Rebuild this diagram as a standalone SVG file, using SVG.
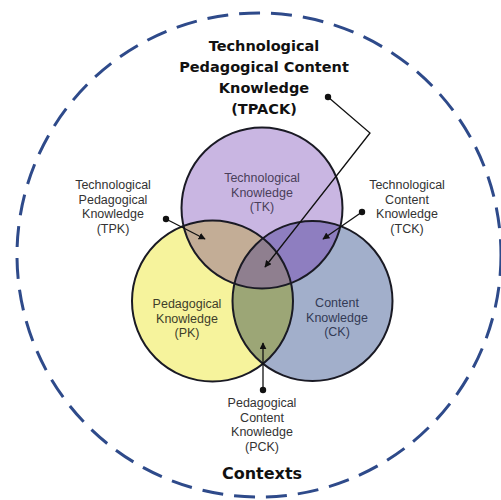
<svg xmlns="http://www.w3.org/2000/svg" width="501" height="500" viewBox="0 0 501 500">
<style>
.lbl{font-family:"Liberation Sans",Arial,sans-serif;font-size:12.5px;fill:#333;text-anchor:middle}
.bold{font-family:"DejaVu Sans",sans-serif;font-weight:bold;fill:#111;text-anchor:middle}
.ring{fill:none;stroke:#1a1a24;stroke-width:2}
.lead{fill:none;stroke:#111;stroke-width:1.3}
.dot{fill:#111}
</style>
<defs>
<circle id="cTK" cx="262" cy="208" r="80.5"/>
<circle id="cPK" cx="212.5" cy="301" r="80.5"/>
<circle id="cCK" cx="312.5" cy="301" r="80"/>
<clipPath id="clipPK"><use href="#cPK"/></clipPath>
<clipPath id="clipCK"><use href="#cCK"/></clipPath>
<clipPath id="clipTK"><use href="#cTK"/></clipPath>
<marker id="arr" viewBox="0 0 10 10" refX="9" refY="5" markerWidth="7" markerHeight="7" orient="auto" markerUnits="userSpaceOnUse"><path d="M0,0 L10,5 L0,10 z" fill="#111"/></marker>
</defs>
<rect width="501" height="500" fill="#fff"/>
<g id="contexts">
<circle cx="259" cy="255" r="242" fill="none" stroke="#2e4a8a" stroke-width="3" stroke-dasharray="21 11"/>
<text class="bold" x="262" y="479" font-size="16">Contexts</text>
</g>
<g id="tk"><use href="#cTK" fill="#c9b6e2"/></g>
<g id="pk"><use href="#cPK" fill="#f6f39c"/></g>
<g id="ck"><use href="#cCK" fill="#a2afcb"/></g>
<g id="tpk-region" clip-path="url(#clipPK)"><use href="#cTK" fill="#c3ad96"/></g>
<g id="tck-region" clip-path="url(#clipCK)"><use href="#cTK" fill="#8e7ec0"/></g>
<g id="pck-region" clip-path="url(#clipCK)"><use href="#cPK" fill="#9ca676"/></g>
<g id="tpack-region" clip-path="url(#clipCK)"><g clip-path="url(#clipPK)"><use href="#cTK" fill="#8f7f8f"/></g></g>
<g id="rings">
<use href="#cTK" class="ring"/><use href="#cPK" class="ring"/><use href="#cCK" class="ring"/>
</g>
<g id="tk-label"><text class="lbl" x="262" style="fill:#4a3f5a"><tspan x="262" y="182">Technological</tspan><tspan x="262" y="196.5">Knowledge</tspan><tspan x="262" y="211">(TK)</tspan></text></g>
<g id="pk-label"><text class="lbl" style="fill:#3e3e2a"><tspan x="187" y="308">Pedagogical</tspan><tspan x="187" y="322.5">Knowledge</tspan><tspan x="187" y="337">(PK)</tspan></text></g>
<g id="ck-label"><text class="lbl" style="fill:#333a55"><tspan x="337" y="307">Content</tspan><tspan x="337" y="321.5">Knowledge</tspan><tspan x="337" y="336">(CK)</tspan></text></g>
<g id="tpack-title"><text class="bold" font-size="14.5"><tspan x="264" y="51">Technological</tspan><tspan x="264" y="72">Pedagogical Content</tspan><tspan x="264" y="93">Knowledge</tspan><tspan x="264" y="114">(TPACK)</tspan></text></g>
<g id="tpk-label"><text class="lbl"><tspan x="113" y="189">Technological</tspan><tspan x="113" y="203.5">Pedagogical</tspan><tspan x="113" y="218">Knowledge</tspan><tspan x="113" y="232.5">(TPK)</tspan></text></g>
<g id="tck-label"><text class="lbl"><tspan x="407" y="189">Technological</tspan><tspan x="407" y="203.5">Content</tspan><tspan x="407" y="218">Knowledge</tspan><tspan x="407" y="232.5">(TCK)</tspan></text></g>
<g id="pck-label"><text class="lbl"><tspan x="262" y="407">Pedagogical</tspan><tspan x="262" y="421.5">Content</tspan><tspan x="262" y="436">Knowledge</tspan><tspan x="262" y="450.5">(PCK)</tspan></text></g>
<g id="connectors">
<circle class="dot" cx="328" cy="97" r="3.2"/>
<path class="lead" d="M328,97 L370,133 L265,267" marker-end="url(#arr)"/>
<circle class="dot" cx="166" cy="219" r="3.2"/>
<path class="lead" d="M166,219 L205,239" marker-end="url(#arr)"/>
<circle class="dot" cx="362" cy="212" r="3.2"/>
<path class="lead" d="M362,212 L323,239" marker-end="url(#arr)"/>
<circle class="dot" cx="263" cy="390" r="3.2"/>
<path class="lead" d="M263,390 L263,343" marker-end="url(#arr)"/>
</g>
</svg>
